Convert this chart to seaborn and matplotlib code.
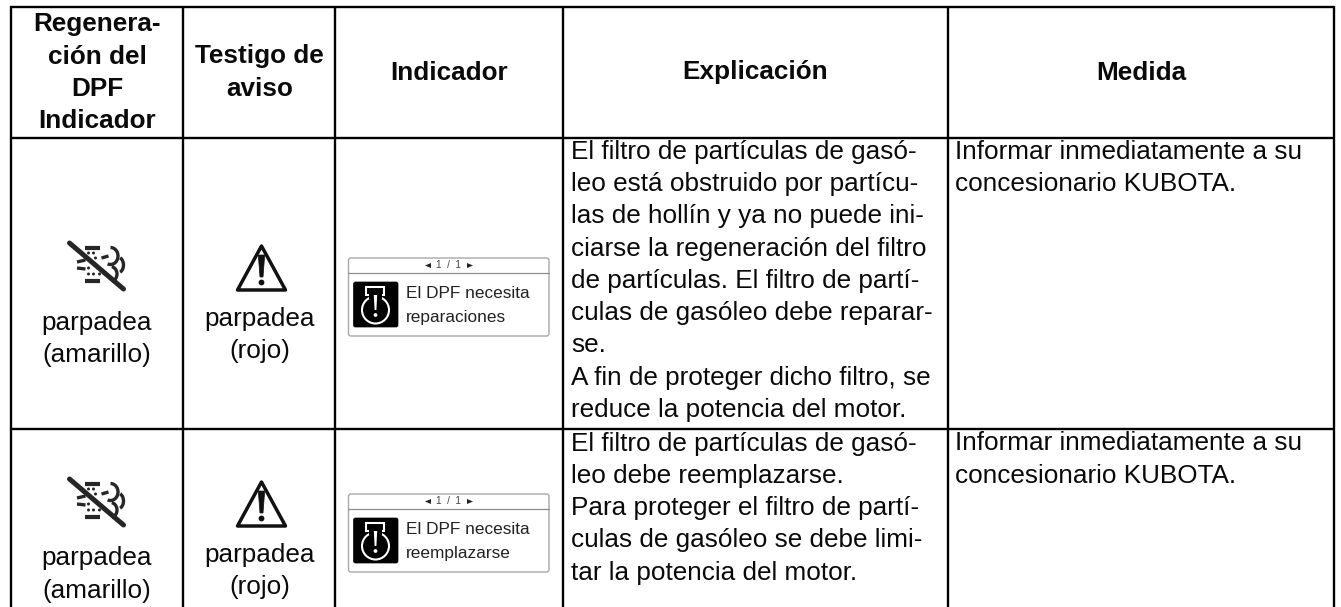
import matplotlib
matplotlib.use("Agg")
import matplotlib.pyplot as plt
import seaborn as sns
from matplotlib.patches import Polygon, FancyBboxPatch, Circle, Rectangle, Arc

# Table text
headers = ["Regenera-\nción del\nDPF\nIndicador", "Testigo de\naviso", "Indicador", "Explicación", "Medida"]
led_text = ["parpadea", "(amarillo)"]
warn_text = ["parpadea", "(rojo)"]
screen_lines = ["reparaciones", "reemplazarse"]
explain = [
    ["El filtro de partículas de gasó-", "leo está obstruido por partícu-", "las de hollín y ya no puede ini-",
     "ciarse la regeneración del filtro", "de partículas. El filtro de partí-", "culas de gasóleo debe reparar-",
     "se.", "A fin de proteger dicho filtro, se", "reduce la potencia del motor."],
    ["El filtro de partículas de gasó-", "leo debe reemplazarse.", "Para proteger el filtro de partí-",
     "culas de gasóleo se debe limi-", "tar la potencia del motor."],
]
action = ["Informar inmediatamente a su", "concesionario KUBOTA."]

sns.set_theme(style="white")
plt.rcParams['font.family'] = ['Liberation Sans', 'DejaVu Sans']

fig, ax = plt.subplots(figsize=(13.41, 6.07), dpi=100)
ax.set_position([0, 0, 1, 1])
ax.set_xlim(0, 1341)
ax.set_ylim(607, 0)
ax.axis('off')

# grid lines
col_edges = [11, 183.5, 335.5, 563, 948, 1334]
row_edges = [7, 137.5, 429]
ax.vlines(col_edges, 6, 607, color='black', lw=1.7)
ax.hlines(row_edges, 10.5, 1334.5, color='black', lw=1.7)

fs = 18.8
pitch = 32.3


def lines(x, y, rows, **kw):
    for i, t in enumerate(rows):
        ax.text(x, y + i * pitch, t, fontsize=fs, va='baseline', color='#0a0a0a', **kw)


# header
lines(97, 31.5, headers[0].split("\n"), ha='center', fontweight='bold')
lines(259.5, 63.5, headers[1].split("\n"), ha='center', fontweight='bold')
lines(449, 79.5, [headers[2]], ha='center', fontweight='bold')
lines(755, 79.5, [headers[3]], ha='center', fontweight='bold')
lines(1141, 79.5, [headers[4]], ha='center', fontweight='bold')

# body
lines(571, 158.7, explain[0])
lines(571, 450.5, explain[1])
lines(955, 158.7, action)
lines(955, 450.5, action)
lines(97, 330, led_text, ha='center')
lines(97, 565.5, led_text, ha='center')
lines(260, 326, warn_text, ha='center')
lines(260, 562, warn_text, ha='center')


def dpf_icon(cx, cy):
    c = '#262626'
    # filter bars and exhaust dashes, then the strike through
    ax.plot([cx - 11.5, cx + 3.5], [cy - 18, cy - 18], color=c, lw=3, solid_capstyle='butt')
    ax.plot([cx - 11.5, cx + 3.5], [cy + 14.5, cy + 14.5], color=c, lw=3, solid_capstyle='butt')
    ax.plot([cx - 19.5, cx - 11], [cy - 4, cy - 6], color=c, lw=2.4, solid_capstyle='butt')
    ax.plot([cx - 19.5, cx - 11], [cy + 2, cy + 3], color=c, lw=2.4, solid_capstyle='butt')
    ax.plot([cx + 5, cx + 12], [cy - 8, cy - 10], color=c, lw=2.4, solid_capstyle='butt')
    for dx, dy in [(-8, -13), (-3, -13), (-1, -8), (-8, 2), (-8, 8), (-3, 8), (3, 8)]:
        ax.add_patch(Circle((cx + dx, cy + dy), 1.5, color=c, lw=0))
    ax.add_patch(Arc((cx + 14, cy - 10), 15, 17, theta1=-90, theta2=110, color=c, lw=2.4))
    ax.add_patch(Arc((cx + 21, cy - 1), 12, 16, theta1=-70, theta2=70, color=c, lw=2.4))
    ax.add_patch(Arc((cx + 14, cy + 8), 13, 15, theta1=-80, theta2=80, color=c, lw=2.4))
    ax.plot([cx - 27, cx + 27], [cy - 23, cy + 23], color=c, lw=3.6, solid_capstyle='round')


def warn_icon(cx, top):
    ax.add_patch(Polygon([(cx, top), (cx + 24, top + 44), (cx - 24, top + 44)], closed=True,
                         fc='white', ec='#111111', lw=2.5, joinstyle='round'))
    ax.add_patch(Polygon([(cx - 3.2, top + 9), (cx + 3.2, top + 9), (cx + 1.5, top + 31), (cx - 1.5, top + 31)],
                         closed=True, fc='#111111', ec='#111111', lw=0.5))
    ax.add_patch(Circle((cx, top + 36.5), 2.9, color='#111111', lw=0))


def screen(y, word):
    ax.add_patch(FancyBboxPatch((348.5, y), 200.5, 78, boxstyle='round,pad=0,rounding_size=2.5',
                                fc='white', ec='#a8a8a8', lw=1))
    ax.plot([348.5, 549], [y + 14.5, y + 14.5], color='#8c8c8c', lw=0.9)
    ax.text(449, y + 7.5, "1  /  1", fontsize=7.2, ha='center', va='center', color='#444444')
    ax.add_patch(Polygon([(425, y + 7.5), (431, y + 5), (431, y + 10)], fc='#222222', lw=0))
    ax.add_patch(Polygon([(473, y + 7.5), (467, y + 5), (467, y + 10)], fc='#222222', lw=0))
    ax.add_patch(FancyBboxPatch((353.5, y + 24), 44.5, 45, boxstyle='round,pad=0,rounding_size=2',
                                fc='black', ec='black', lw=0.5))
    ax.add_patch(Circle((375.5, y + 52), 13.5, fc='none', ec='white', lw=1.5))
    ax.add_patch(Rectangle((366.5, y + 29), 17.5, 8, fc='black', ec='white', lw=1.5))
    ax.add_patch(Rectangle((369, y + 35), 13, 6, fc='black', ec='none'))
    ax.add_patch(Polygon([(373.8, y + 37), (377.2, y + 37), (376.4, y + 52), (374.6, y + 52)], fc='white', lw=0))
    ax.add_patch(Circle((375.5, y + 57), 1.9, color='white', lw=0))
    ax.text(406, y + 40, "El DPF necesita", fontsize=12.4, color='#222222', va='baseline')
    ax.text(406, y + 64, word, fontsize=12.4, color='#222222', va='baseline')


dpf_icon(96.5, 266)
dpf_icon(96.5, 502)
warn_icon(261.5, 246)
warn_icon(261.5, 482)
screen(258, screen_lines[0])
screen(494, screen_lines[1])

fig.savefig("out.png", dpi=100)
